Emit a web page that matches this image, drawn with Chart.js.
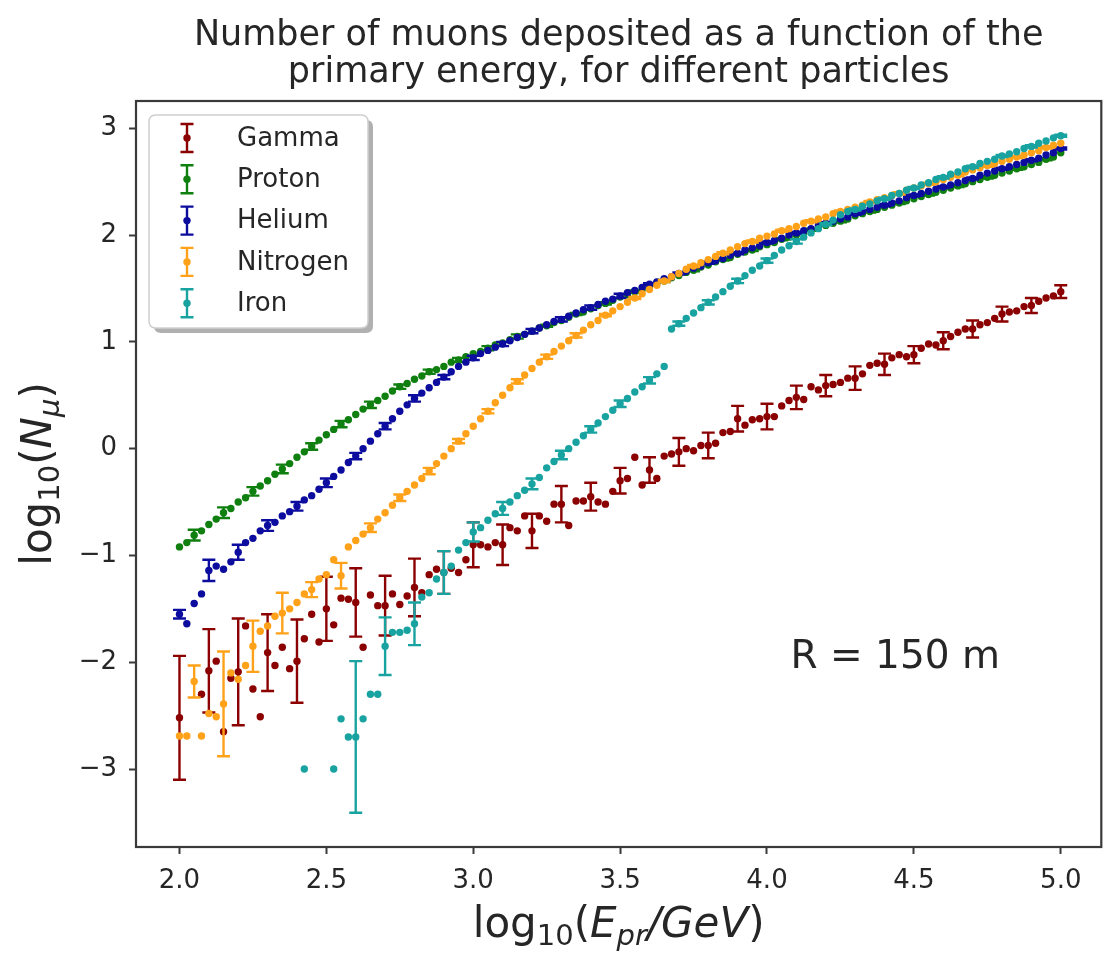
<!DOCTYPE html>
<html>
<head>
<meta charset="utf-8">
<script src="https://cdn.jsdelivr.net/npm/chart.js@4.4.0/dist/chart.umd.min.js"></script>
<style>
html,body{margin:0;padding:0;background:#ffffff;}
#wrap{width:1105px;height:954px;position:relative;}
</style>
</head>
<body>
<div id="wrap"><canvas id="c" width="1105" height="954"></canvas></div>
<script>
// ---------------- DATA ----------------
const energyLog = [
2.000,2.025,2.050,2.075,2.100,2.125,2.150,2.175,2.200,2.225,
2.250,2.275,2.300,2.325,2.350,2.375,2.400,2.425,2.450,2.475,
2.500,2.525,2.550,2.575,2.600,2.625,2.650,2.675,2.700,2.725,
2.750,2.775,2.800,2.825,2.850,2.875,2.900,2.925,2.950,2.975,
3.000,3.025,3.050,3.075,3.100,3.125,3.150,3.175,3.200,3.225,
3.250,3.275,3.300,3.325,3.350,3.375,3.400,3.425,3.450,3.475,
3.500,3.525,3.550,3.575,3.600,3.625,3.650,3.675,3.700,3.725,
3.750,3.775,3.800,3.825,3.850,3.875,3.900,3.925,3.950,3.975,
4.000,4.025,4.050,4.075,4.100,4.125,4.150,4.175,4.200,4.225,
4.250,4.275,4.300,4.325,4.350,4.375,4.400,4.425,4.450,4.475,
4.500,4.525,4.550,4.575,4.600,4.625,4.650,4.675,4.700,4.725,
4.750,4.775,4.800,4.825,4.850,4.875,4.900,4.925,4.950,4.975,
5.000];

const gammaLogN = [
-2.52,null,null,-2.30,-2.08,-1.99,-2.65,-2.15,-2.09,-1.66,
-2.25,-2.51,-1.91,-2.03,-1.86,-2.06,-1.99,-1.78,-1.55,-1.81,
-1.50,-1.65,-1.40,-1.41,-1.44,-1.86,-1.37,-1.47,-1.47,-1.36,
-1.46,-1.38,-1.30,-1.35,-1.18,-1.13,-1.16,-1.12,-1.16,-1.04,
-0.90,-0.90,-0.92,-0.88,-0.90,-0.74,-0.77,-0.63,-0.77,-0.63,
-0.68,-0.52,-0.52,-0.72,-0.49,-0.49,-0.45,-0.50,-0.52,-0.40,
-0.30,-0.28,-0.08,-0.34,-0.20,-0.28,-0.07,-0.05,-0.03,0.00,
-0.02,0.03,0.03,0.05,0.15,0.16,0.28,0.22,0.27,0.28,
0.30,0.30,0.40,0.45,0.48,0.46,0.58,0.55,0.59,0.60,
0.62,0.66,0.66,0.70,0.78,0.80,0.79,0.85,0.88,0.86,
0.88,0.94,0.98,0.97,1.01,1.05,1.09,1.12,1.12,1.16,
1.18,1.22,1.26,1.28,1.29,1.33,1.34,1.38,1.41,1.43,
1.47];

const protonLogN = [
-0.92,-0.88,-0.81,-0.77,-0.71,-0.66,-0.60,-0.56,-0.50,-0.46,
-0.40,-0.35,-0.30,-0.24,-0.19,-0.14,-0.08,-0.03,0.02,0.08,
0.13,0.18,0.23,0.27,0.32,0.37,0.41,0.45,0.49,0.54,
0.58,0.61,0.65,0.68,0.72,0.74,0.77,0.81,0.83,0.86,
0.89,0.91,0.94,0.97,0.99,1.02,1.05,1.07,1.10,1.13,
1.15,1.18,1.20,1.23,1.26,1.28,1.31,1.34,1.36,1.39,
1.42,1.44,1.47,1.49,1.52,1.55,1.57,1.60,1.62,1.65,
1.67,1.70,1.72,1.75,1.77,1.79,1.82,1.84,1.86,1.89,
1.91,1.93,1.96,1.98,2.00,2.02,2.05,2.07,2.09,2.11,
2.13,2.15,2.18,2.20,2.22,2.24,2.26,2.28,2.30,2.32,
2.34,2.36,2.38,2.40,2.42,2.44,2.46,2.48,2.50,2.52,
2.54,2.56,2.58,2.60,2.62,2.64,2.66,2.68,2.71,2.73,
2.77];

const heliumLogN = [
-1.55,-1.64,-1.45,-1.36,-1.14,-1.10,-1.13,-1.06,-0.97,-0.88,
-0.84,-0.77,-0.72,-0.69,-0.63,-0.59,-0.54,-0.48,-0.44,-0.38,
-0.32,-0.26,-0.20,-0.13,-0.07,0.00,0.07,0.14,0.21,0.28,
0.35,0.41,0.47,0.52,0.57,0.62,0.67,0.72,0.77,0.81,
0.85,0.89,0.92,0.95,0.98,1.01,1.04,1.07,1.10,1.13,
1.16,1.19,1.21,1.24,1.27,1.30,1.32,1.35,1.38,1.40,
1.43,1.46,1.48,1.51,1.54,1.56,1.59,1.61,1.64,1.66,
1.69,1.71,1.74,1.76,1.78,1.81,1.83,1.86,1.88,1.90,
1.93,1.95,1.97,2.00,2.02,2.04,2.06,2.09,2.11,2.13,
2.15,2.17,2.20,2.22,2.24,2.26,2.28,2.30,2.32,2.35,
2.37,2.39,2.41,2.43,2.45,2.47,2.49,2.51,2.53,2.56,
2.58,2.60,2.62,2.64,2.66,2.68,2.70,2.72,2.75,2.77,
2.81];

const nitrogenLogN = [
-2.69,-2.69,-2.18,-2.69,-2.48,-2.51,-2.39,-2.10,-2.16,-2.03,
-1.85,-1.71,-1.66,-1.57,-1.54,-1.50,-1.44,-1.36,-1.32,-1.22,
-1.18,-1.04,-1.19,-0.92,-0.86,-0.80,-0.74,-0.66,-0.60,-0.53,
-0.46,-0.40,-0.34,-0.28,-0.21,-0.14,-0.07,0.00,0.07,0.14,
0.21,0.28,0.35,0.43,0.50,0.57,0.63,0.69,0.75,0.81,
0.86,0.91,0.96,1.01,1.06,1.11,1.16,1.20,1.25,1.29,
1.33,1.37,1.41,1.45,1.49,1.53,1.57,1.61,1.64,1.68,
1.71,1.74,1.77,1.80,1.83,1.86,1.89,1.92,1.94,1.97,
1.99,2.01,2.04,2.06,2.08,2.11,2.13,2.15,2.17,2.20,
2.22,2.24,2.26,2.28,2.31,2.33,2.35,2.37,2.39,2.42,
2.44,2.46,2.48,2.50,2.52,2.54,2.56,2.59,2.61,2.63,
2.65,2.67,2.69,2.71,2.73,2.75,2.77,2.79,2.82,2.84,
2.86];

const ironLogN = [
null,null,null,null,null,null,null,null,null,null,
null,null,null,null,null,null,null,-3.00,null,null,
null,-3.00,-2.53,-2.70,-2.70,-2.53,-2.30,-2.30,-1.85,-1.72,
-1.72,-1.70,-1.64,-1.39,-1.35,-1.22,-1.16,-1.10,-0.95,-0.88,
-0.78,-0.74,-0.67,-0.61,-0.56,-0.50,-0.44,-0.39,-0.33,-0.27,
-0.18,-0.12,-0.06,0.00,0.06,0.12,0.18,0.24,0.30,0.36,
0.42,0.47,0.53,0.58,0.64,0.70,0.77,1.12,1.17,1.22,
1.27,1.32,1.37,1.42,1.47,1.52,1.57,1.62,1.67,1.71,
1.76,1.81,1.86,1.90,1.94,1.98,2.02,2.06,2.10,2.14,
2.19,2.22,2.24,2.27,2.29,2.32,2.34,2.37,2.39,2.42,
2.44,2.47,2.49,2.52,2.54,2.57,2.59,2.62,2.64,2.67,
2.69,2.71,2.74,2.76,2.78,2.81,2.83,2.86,2.88,2.91,
2.93];

// error bars (half-lengths) at the energies where they were drawn
const errEnergiesA = [2.0,2.1,2.2,2.3,2.4,2.5,2.6,2.7,2.8,2.9,3.0,3.1,3.2,3.3,3.4,3.5,3.6,3.7,3.8,3.9,4.0,4.1,4.2,4.3,4.4,4.5,4.6,4.7,4.8,4.9,5.0];
const errEnergiesB = [2.05,2.15,2.25,2.35,2.45,2.55,2.65,2.75,2.85,2.95,3.05,3.15,3.25,3.35,3.45,3.55,3.65,3.75,3.85,3.95,4.05,4.15,4.25,4.35,4.45,4.55,4.65,4.75,4.85,4.95];

const gammaErr    = [0.58,0.39,0.50,0.36,0.39,0.30,0.32,0.28,0.27,0.20,0.21,0.19,0.16,0.17,0.13,0.12,0.12,0.13,0.12,0.12,0.12,0.11,0.10,0.11,0.10,0.08,0.08,0.08,0.07,0.07,0.06];
const protonErr   = [0.05,0.05,0.04,0.04,0.03,0.03,0.03,0.02,0.02,0.02,0.02,0.02,0.01,0.01,0.01,0.01,0.01,0.01,0.01,0.01,0.01,0.01,0.01,0.01,0.01,0.01,0.01,0.01,0.01,0.01];
const heliumErr   = [0.04,0.10,0.07,0.05,0.04,0.04,0.03,0.03,0.03,0.02,0.02,0.02,0.02,0.02,0.02,0.02,0.01,0.01,0.01,0.01,0.01,0.01,0.01,0.01,0.01,0.01,0.01,0.01,0.01,0.01,0.01];
const nitrogenErr = [0.15,0.49,0.24,0.19,0.07,0.12,0.04,0.03,0.03,0.02,0.02,0.02,0.02,0.02,0.01,0.01,0.01,0.01,0.01,0.01,0.01,0.01,0.01,0.01,0.01,0.01,0.01,0.01,0.01,0.01];
const ironErr     = [null,null,null,null,null,null,0.71,0.27,0.20,0.20,0.09,0.06,0.05,0.04,0.03,0.03,0.03,0.02,0.02,0.02,0.02,0.02,0.01,0.01,0.01,0.01,0.01,0.01,0.01,0.01,0.01];

const particleNames = ['Gamma','Proton','Helium','Nitrogen','Iron'];
const xTickValues = [2.0,2.5,3.0,3.5,4.0,4.5,5.0];
const yTickValues = [-3,-2,-1,0,1,2,3];

const titleLines = ['Number of muons deposited as a function of the','primary energy, for different particles'];
const annotationText = 'R = 150 m';

// ---------------- BUILD ----------------
const FONT = "'DejaVu Sans', 'Liberation Sans', sans-serif";
const TEXT = '#262626';
const colors = ['#8b0000', '#0f7f0f', '#0c0c9e', '#ffa21a', '#19a3a0'];
const seriesY = [gammaLogN, protonLogN, heliumLogN, nitrogenLogN, ironLogN];
const seriesErr = [gammaErr, protonErr, heliumErr, nitrogenErr, ironErr];
const seriesErrX = [errEnergiesA, errEnergiesB, errEnergiesA, errEnergiesB, errEnergiesA];

function findIdx(x){ return energyLog.findIndex(e => Math.abs(e - x) < 1e-6); }

const datasets = particleNames.map((name, s) => ({
  label: name,
  data: energyLog.map((x, i) => ({x: x, y: seriesY[s][i]})).filter(p => p.y !== null),
  showLine: false,
  pointRadius: 3.7,
  pointHoverRadius: 3.7,
  pointBorderWidth: 0,
  backgroundColor: colors[s],
  borderColor: colors[s],
  order: particleNames.length - 1 - s,
  errorBars: seriesErrX[s].map((x, k) => {
    const i = findIdx(x);
    const y = i >= 0 ? seriesY[s][i] : null;
    return {x: x, y: y, e: seriesErr[s][k]};
  }).filter(b => b.y !== null && b.e !== null)
}));

const errorBarPlugin = {
  id: 'errorBars',
  beforeDatasetDraw(chart, args) {
    const ds = chart.data.datasets[args.index];
    if (!ds.errorBars) return;
    const ctx = chart.ctx, xs = chart.scales.x, ys = chart.scales.y, a = chart.chartArea;
    ctx.save();
    ctx.beginPath(); ctx.rect(a.left, a.top, a.right - a.left, a.bottom - a.top); ctx.clip();
    ctx.strokeStyle = ds.borderColor; ctx.lineWidth = 2.4; ctx.lineCap = 'butt';
    ds.errorBars.forEach(b => {
      const px = xs.getPixelForValue(b.x);
      const t = ys.getPixelForValue(b.y + b.e), bt = ys.getPixelForValue(b.y - b.e);
      ctx.beginPath();
      ctx.moveTo(px, t); ctx.lineTo(px, bt);
      ctx.moveTo(px - 6.5, t); ctx.lineTo(px + 6.5, t);
      ctx.moveTo(px - 6.5, bt); ctx.lineTo(px + 6.5, bt);
      ctx.stroke();
    });
    ctx.restore();
  }
};

function drawRich(ctx, parts, x, y, size) {
  let w = 0;
  parts.forEach(p => {
    ctx.font = (p.it ? 'italic ' : '') + Math.round(size * (p.sc || 1)) + 'px ' + FONT;
    p.w = ctx.measureText(p.t).width; w += p.w;
  });
  let cx = x - w / 2;
  parts.forEach(p => {
    ctx.font = (p.it ? 'italic ' : '') + Math.round(size * (p.sc || 1)) + 'px ' + FONT;
    ctx.fillText(p.t, cx, y + (p.dy || 0) * size);
    cx += p.w;
  });
}

const decorPlugin = {
  id: 'decor',
  afterDraw(chart) {
    const ctx = chart.ctx, a = chart.chartArea, xs = chart.scales.x, ys = chart.scales.y;
    ctx.save();
    // frame
    ctx.strokeStyle = '#3a3a3a'; ctx.lineWidth = 2.2;
    ctx.strokeRect(a.left, a.top, a.right - a.left, a.bottom - a.top);
    // title
    ctx.fillStyle = TEXT; ctx.textAlign = 'center'; ctx.textBaseline = 'alphabetic';
    ctx.font = '35px ' + FONT;
    const cxm = (a.left + a.right) / 2;
    ctx.fillText(titleLines[0], cxm, 45);
    ctx.fillText(titleLines[1], cxm, 82);
    // axis labels
    ctx.textAlign = 'left';
    drawRich(ctx, [
      {t:'log'}, {t:'10', sc:0.7, dy:0.2}, {t:'('}, {t:'E', it:true}, {t:'pr', it:true, sc:0.7, dy:0.2},
      {t:'/GeV', it:true}, {t:')'}
    ], cxm, 937, 42);
    ctx.save();
    ctx.translate(51, (a.top + a.bottom) / 2);
    ctx.rotate(-Math.PI / 2);
    drawRich(ctx, [
      {t:'log'}, {t:'10', sc:0.7, dy:0.2}, {t:'('}, {t:'N', it:true}, {t:'\u03bc', it:true, sc:0.7, dy:0.2}, {t:')'}
    ], 0, 0, 42);
    ctx.restore();
    // annotation
    ctx.font = '39px ' + FONT; ctx.fillStyle = TEXT; ctx.textAlign = 'left';
    ctx.fillText(annotationText, xs.getPixelForValue(4.08), ys.getPixelForValue(-2.05));
    // legend
    const lx = a.left + 13, ly = a.top + 14, lw = 219, lh = 213, r = 7;
    function rr(x, y, w, h) {
      ctx.beginPath();
      ctx.moveTo(x + r, y); ctx.lineTo(x + w - r, y); ctx.quadraticCurveTo(x + w, y, x + w, y + r);
      ctx.lineTo(x + w, y + h - r); ctx.quadraticCurveTo(x + w, y + h, x + w - r, y + h);
      ctx.lineTo(x + r, y + h); ctx.quadraticCurveTo(x, y + h, x, y + h - r);
      ctx.lineTo(x, y + r); ctx.quadraticCurveTo(x, y, x + r, y); ctx.closePath();
    }
    ctx.fillStyle = 'rgba(80,80,80,0.45)'; rr(lx + 5, ly + 5, lw, lh); ctx.fill();
    ctx.fillStyle = '#ffffff'; rr(lx, ly, lw, lh); ctx.fill();
    ctx.strokeStyle = '#cfcfcf'; ctx.lineWidth = 1.5; ctx.stroke();
    ctx.textBaseline = 'middle'; ctx.font = '26px ' + FONT;
    chart.data.datasets.forEach((ds, k) => {
      const cy = ly + 23 + k * 41.3, ix = lx + 38;
      ctx.strokeStyle = ds.borderColor; ctx.lineWidth = 2.4;
      ctx.beginPath();
      ctx.moveTo(ix, cy - 14); ctx.lineTo(ix, cy + 14);
      ctx.moveTo(ix - 6.5, cy - 14); ctx.lineTo(ix + 6.5, cy - 14);
      ctx.moveTo(ix - 6.5, cy + 14); ctx.lineTo(ix + 6.5, cy + 14);
      ctx.stroke();
      ctx.fillStyle = ds.backgroundColor; ctx.beginPath(); ctx.arc(ix, cy, 3.7, 0, Math.PI * 2); ctx.fill();
      ctx.fillStyle = TEXT; ctx.textAlign = 'left';
      ctx.fillText(ds.label, lx + 88, cy + 1);
    });
    ctx.restore();
  }
};

new Chart(document.getElementById('c'), {
  type: 'scatter',
  data: { datasets: datasets },
  plugins: [errorBarPlugin, decorPlugin],
  options: {
    responsive: false,
    animation: false,
    devicePixelRatio: 1,
    layout: { padding: { left: 0, right: 2, top: 101, bottom: 0 } },
    plugins: { legend: { display: false }, tooltip: { enabled: false }, title: { display: false } },
    scales: {
      x: {
        type: 'linear', min: 1.852, max: 5.138,
        afterBuildTicks: s => { s.ticks = xTickValues.map(v => ({value: v})); },
        afterFit: s => { s.height = 107; },
        border: { display: false },
        grid: { drawOnChartArea: false, drawTicks: true, tickLength: 7, tickWidth: 2, tickColor: '#3a3a3a' },
        ticks: { color: TEXT, font: { family: FONT, size: 26 }, padding: 12, maxRotation: 0,
                 callback: v => Number(v).toFixed(1) }
      },
      y: {
        type: 'linear', min: -3.73, max: 3.255,
        afterBuildTicks: s => { s.ticks = yTickValues.map(v => ({value: v})); },
        afterFit: s => { s.width = 136; },
        border: { display: false },
        grid: { drawOnChartArea: false, drawTicks: true, tickLength: 7, tickWidth: 2, tickColor: '#3a3a3a' },
        ticks: { color: TEXT, font: { family: FONT, size: 26 }, padding: 12,
                 callback: v => (v < 0 ? '\u2212' + Math.abs(v) : String(v)) }
      }
    }
  }
});
</script>
</body>
</html>
